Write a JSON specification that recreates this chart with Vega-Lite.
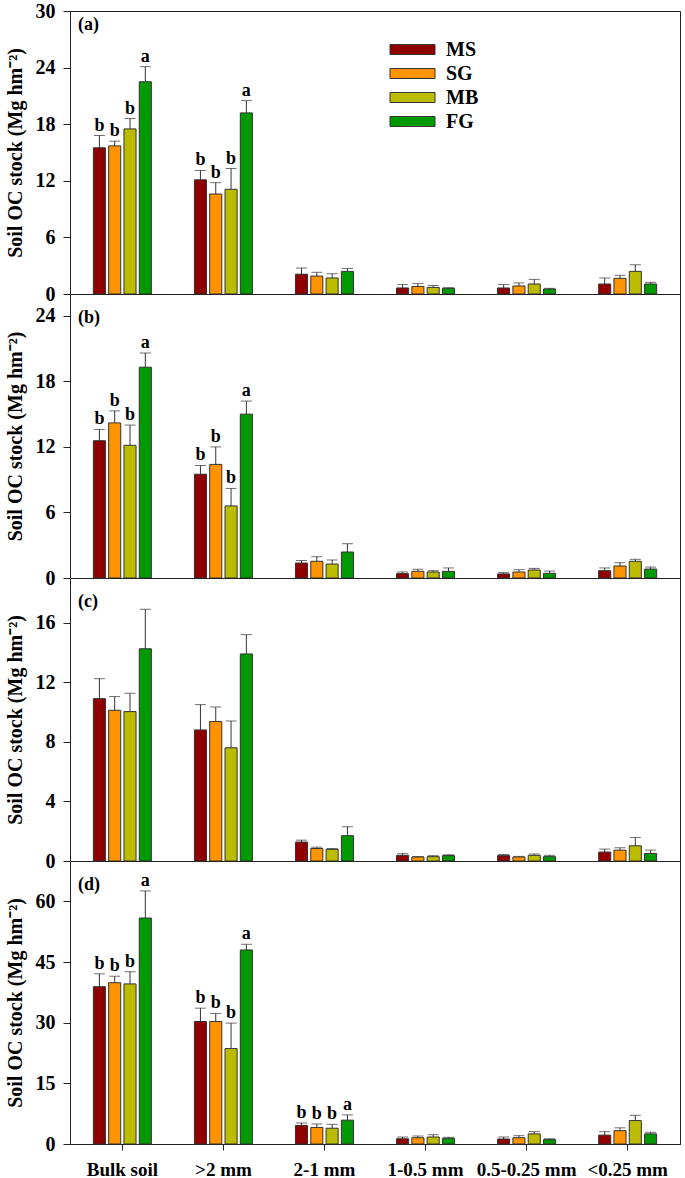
{
  "$schema": "https://vega.github.io/schema/vega-lite/v6.json",
  "padding": {"left": 4, "top": 0, "right": 2, "bottom": 0},
  "background": "white",
  "spacing": 0,
  "bounds": "flush",
  "config": {
    "font": "Liberation Serif",
    "view": {"stroke": "#222", "strokeWidth": 1},
    "axis": {"grid": false, "domainColor": "#222", "tickColor": "#222", "labelColor": "#000", "titleColor": "#000", "labelFont": "Liberation Serif", "titleFont": "Liberation Serif", "labelFontWeight": "bold", "titleFontWeight": "bold"},
    "concat": {"spacing": 0}
  },
  "datasets": {
    "d": [
      {"p":"a","s":"Bulk soil","g":"MS","m":15.5,"u":16.8,"l":"b"},
      {"p":"a","s":"Bulk soil","g":"SG","m":15.7,"u":16.2,"l":"b"},
      {"p":"a","s":"Bulk soil","g":"MB","m":17.5,"u":18.6,"l":"b"},
      {"p":"a","s":"Bulk soil","g":"FG","m":22.5,"u":24.1,"l":"a"},
      {"p":"a","s":">2 mm","g":"MS","m":12.1,"u":13.1,"l":"b"},
      {"p":"a","s":">2 mm","g":"SG","m":10.6,"u":11.8,"l":"b"},
      {"p":"a","s":">2 mm","g":"MB","m":11.1,"u":13.3,"l":"b"},
      {"p":"a","s":">2 mm","g":"FG","m":19.2,"u":20.5,"l":"a"},
      {"p":"a","s":"2-1 mm","g":"MS","m":2.1,"u":2.75,"l":""},
      {"p":"a","s":"2-1 mm","g":"SG","m":1.9,"u":2.3,"l":""},
      {"p":"a","s":"2-1 mm","g":"MB","m":1.7,"u":2.15,"l":""},
      {"p":"a","s":"2-1 mm","g":"FG","m":2.4,"u":2.7,"l":""},
      {"p":"a","s":"1-0.5 mm","g":"MS","m":0.64,"u":1.0,"l":""},
      {"p":"a","s":"1-0.5 mm","g":"SG","m":0.8,"u":1.1,"l":""},
      {"p":"a","s":"1-0.5 mm","g":"MB","m":0.7,"u":0.9,"l":""},
      {"p":"a","s":"1-0.5 mm","g":"FG","m":0.6,"u":0.67,"l":""},
      {"p":"a","s":"0.5-0.25 mm","g":"MS","m":0.64,"u":1.0,"l":""},
      {"p":"a","s":"0.5-0.25 mm","g":"SG","m":0.85,"u":1.17,"l":""},
      {"p":"a","s":"0.5-0.25 mm","g":"MB","m":1.06,"u":1.55,"l":""},
      {"p":"a","s":"0.5-0.25 mm","g":"FG","m":0.53,"u":0.6,"l":""},
      {"p":"a","s":"<0.25 mm","g":"MS","m":1.06,"u":1.7,"l":""},
      {"p":"a","s":"<0.25 mm","g":"SG","m":1.66,"u":1.98,"l":""},
      {"p":"a","s":"<0.25 mm","g":"MB","m":2.4,"u":3.1,"l":""},
      {"p":"a","s":"<0.25 mm","g":"FG","m":1.06,"u":1.24,"l":""},

      {"p":"b","s":"Bulk soil","g":"MS","m":12.57,"u":13.6,"l":"b"},
      {"p":"b","s":"Bulk soil","g":"SG","m":14.2,"u":15.3,"l":"b"},
      {"p":"b","s":"Bulk soil","g":"MB","m":12.15,"u":14.0,"l":"b"},
      {"p":"b","s":"Bulk soil","g":"FG","m":19.3,"u":20.6,"l":"a"},
      {"p":"b","s":">2 mm","g":"MS","m":9.5,"u":10.3,"l":"b"},
      {"p":"b","s":">2 mm","g":"SG","m":10.4,"u":12.0,"l":"b"},
      {"p":"b","s":">2 mm","g":"MB","m":6.6,"u":8.2,"l":"b"},
      {"p":"b","s":">2 mm","g":"FG","m":15.0,"u":16.2,"l":"a"},
      {"p":"b","s":"2-1 mm","g":"MS","m":1.37,"u":1.6,"l":""},
      {"p":"b","s":"2-1 mm","g":"SG","m":1.53,"u":1.95,"l":""},
      {"p":"b","s":"2-1 mm","g":"MB","m":1.28,"u":1.65,"l":""},
      {"p":"b","s":"2-1 mm","g":"FG","m":2.38,"u":3.14,"l":""},
      {"p":"b","s":"1-0.5 mm","g":"MS","m":0.4,"u":0.55,"l":""},
      {"p":"b","s":"1-0.5 mm","g":"SG","m":0.61,"u":0.8,"l":""},
      {"p":"b","s":"1-0.5 mm","g":"MB","m":0.55,"u":0.67,"l":""},
      {"p":"b","s":"1-0.5 mm","g":"FG","m":0.61,"u":0.92,"l":""},
      {"p":"b","s":"0.5-0.25 mm","g":"MS","m":0.37,"u":0.49,"l":""},
      {"p":"b","s":"0.5-0.25 mm","g":"SG","m":0.55,"u":0.76,"l":""},
      {"p":"b","s":"0.5-0.25 mm","g":"MB","m":0.73,"u":0.88,"l":""},
      {"p":"b","s":"0.5-0.25 mm","g":"FG","m":0.43,"u":0.64,"l":""},
      {"p":"b","s":"<0.25 mm","g":"MS","m":0.67,"u":0.92,"l":""},
      {"p":"b","s":"<0.25 mm","g":"SG","m":1.1,"u":1.4,"l":""},
      {"p":"b","s":"<0.25 mm","g":"MB","m":1.53,"u":1.71,"l":""},
      {"p":"b","s":"<0.25 mm","g":"FG","m":0.82,"u":1.0,"l":""},

      {"p":"c","s":"Bulk soil","g":"MS","m":10.9,"u":12.24,"l":""},
      {"p":"c","s":"Bulk soil","g":"SG","m":10.12,"u":11.04,"l":""},
      {"p":"c","s":"Bulk soil","g":"MB","m":10.03,"u":11.26,"l":""},
      {"p":"c","s":"Bulk soil","g":"FG","m":14.25,"u":16.9,"l":""},
      {"p":"c","s":">2 mm","g":"MS","m":8.8,"u":10.5,"l":""},
      {"p":"c","s":">2 mm","g":"SG","m":9.36,"u":10.34,"l":""},
      {"p":"c","s":">2 mm","g":"MB","m":7.6,"u":9.4,"l":""},
      {"p":"c","s":">2 mm","g":"FG","m":13.9,"u":15.2,"l":""},
      {"p":"c","s":"2-1 mm","g":"MS","m":1.27,"u":1.4,"l":""},
      {"p":"c","s":"2-1 mm","g":"SG","m":0.84,"u":0.93,"l":""},
      {"p":"c","s":"2-1 mm","g":"MB","m":0.78,"u":0.84,"l":""},
      {"p":"c","s":"2-1 mm","g":"FG","m":1.7,"u":2.3,"l":""},
      {"p":"c","s":"1-0.5 mm","g":"MS","m":0.38,"u":0.49,"l":""},
      {"p":"c","s":"1-0.5 mm","g":"SG","m":0.27,"u":0.3,"l":""},
      {"p":"c","s":"1-0.5 mm","g":"MB","m":0.29,"u":0.36,"l":""},
      {"p":"c","s":"1-0.5 mm","g":"FG","m":0.36,"u":0.42,"l":""},
      {"p":"c","s":"0.5-0.25 mm","g":"MS","m":0.36,"u":0.44,"l":""},
      {"p":"c","s":"0.5-0.25 mm","g":"SG","m":0.27,"u":0.31,"l":""},
      {"p":"c","s":"0.5-0.25 mm","g":"MB","m":0.38,"u":0.47,"l":""},
      {"p":"c","s":"0.5-0.25 mm","g":"FG","m":0.29,"u":0.38,"l":""},
      {"p":"c","s":"<0.25 mm","g":"MS","m":0.6,"u":0.8,"l":""},
      {"p":"c","s":"<0.25 mm","g":"SG","m":0.73,"u":0.89,"l":""},
      {"p":"c","s":"<0.25 mm","g":"MB","m":1.02,"u":1.58,"l":""},
      {"p":"c","s":"<0.25 mm","g":"FG","m":0.51,"u":0.73,"l":""},

      {"p":"d","s":"Bulk soil","g":"MS","m":38.9,"u":42.1,"l":"b"},
      {"p":"d","s":"Bulk soil","g":"SG","m":39.9,"u":41.5,"l":"b"},
      {"p":"d","s":"Bulk soil","g":"MB","m":39.6,"u":42.6,"l":"b"},
      {"p":"d","s":"Bulk soil","g":"FG","m":55.9,"u":62.6,"l":"a"},
      {"p":"d","s":">2 mm","g":"MS","m":30.3,"u":33.6,"l":"b"},
      {"p":"d","s":">2 mm","g":"SG","m":30.3,"u":32.3,"l":"b"},
      {"p":"d","s":">2 mm","g":"MB","m":23.6,"u":29.9,"l":"b"},
      {"p":"d","s":">2 mm","g":"FG","m":48.0,"u":49.4,"l":"a"},
      {"p":"d","s":"2-1 mm","g":"MS","m":4.6,"u":5.2,"l":"b"},
      {"p":"d","s":"2-1 mm","g":"SG","m":4.1,"u":4.95,"l":"b"},
      {"p":"d","s":"2-1 mm","g":"MB","m":3.9,"u":4.86,"l":"b"},
      {"p":"d","s":"2-1 mm","g":"FG","m":5.9,"u":7.2,"l":"a"},
      {"p":"d","s":"1-0.5 mm","g":"MS","m":1.3,"u":1.73,"l":""},
      {"p":"d","s":"1-0.5 mm","g":"SG","m":1.56,"u":1.98,"l":""},
      {"p":"d","s":"1-0.5 mm","g":"MB","m":1.73,"u":2.3,"l":""},
      {"p":"d","s":"1-0.5 mm","g":"FG","m":1.4,"u":1.65,"l":""},
      {"p":"d","s":"0.5-0.25 mm","g":"MS","m":1.24,"u":1.73,"l":""},
      {"p":"d","s":"0.5-0.25 mm","g":"SG","m":1.56,"u":2.06,"l":""},
      {"p":"d","s":"0.5-0.25 mm","g":"MB","m":2.5,"u":3.05,"l":""},
      {"p":"d","s":"0.5-0.25 mm","g":"FG","m":1.07,"u":1.3,"l":""},
      {"p":"d","s":"<0.25 mm","g":"MS","m":2.2,"u":3.05,"l":""},
      {"p":"d","s":"<0.25 mm","g":"SG","m":3.3,"u":4.0,"l":""},
      {"p":"d","s":"<0.25 mm","g":"MB","m":5.8,"u":7.1,"l":""},
      {"p":"d","s":"<0.25 mm","g":"FG","m":2.5,"u":2.9,"l":""}
    ]
  },
  "data": {"name": "d"},
  "resolve": {"scale": {"color": "independent", "x": "independent", "y": "independent"}, "legend": {"color": "independent"}},
  "vconcat": [
    {
      "width": 610, "height": 283,
      "title": {"text": "(a)", "anchor": "start", "frame": "group", "offset": -33, "dx": 8, "fontSize": 18, "fontWeight": "bold", "font": "Liberation Serif", "color": "#000"},
      "transform": [{"filter": "datum.p == 'a'"}],
      "encoding": {
        "x": {"field": "s", "type": "nominal", "sort": ["Bulk soil", ">2 mm", "2-1 mm", "1-0.5 mm", "0.5-0.25 mm", "<0.25 mm"], "scale": {"paddingInner": 0.426, "paddingOuter": 0.231}, "axis": null},
        "xOffset": {"field": "g", "type": "nominal", "sort": ["MS", "SG", "MB", "FG"], "scale": {"paddingInner": 0.21, "paddingOuter": 0}}
      },
      "layer": [
        {"mark": {"type": "bar", "stroke": "#333", "strokeWidth": 1},
         "encoding": {
           "y": {"field": "m", "type": "quantitative", "scale": {"domain": [0, 30], "nice": false}, "title": "Soil OC stock (Mg hm⁻²)",
                 "axis": {"values": [0, 6, 12, 18, 24, 30], "tickSize": 7, "labelFontSize": 20, "titleFontSize": 20, "labelPadding": 8, "titlePadding": 10}},
           "color": {"field": "g", "type": "nominal", "scale": {"domain": ["MS", "SG", "MB", "FG"], "range": ["#900000", "#FF9400", "#BBBB00", "#009900"]},
                     "legend": {"orient": "none", "legendX": 332, "legendY": 28, "direction": "vertical", "title": null, "labelFontSize": 20, "labelFontWeight": "bold", "labelFont": "Liberation Serif", "labelColor": "#000", "symbolType": "M-2.25,-0.5H2.25V0.5H-2.25Z", "symbolSize": 400, "symbolStrokeColor": "#333", "symbolStrokeWidth": 1, "symbolOpacity": 1, "labelOffset": 23, "rowPadding": 3}}
         }},
        {"mark": {"type": "rule", "color": "#333", "strokeWidth": 1},
         "encoding": {"y": {"field": "m", "type": "quantitative"}, "y2": {"field": "u"}}},
        {"mark": {"type": "tick", "color": "#333", "size": 11, "thickness": 1},
         "encoding": {"y": {"field": "u", "type": "quantitative"}}},
        {"mark": {"type": "text", "baseline": "alphabetic", "dy": -5, "fontSize": 18, "fontWeight": "bold", "font": "Liberation Serif", "color": "#000"},
         "encoding": {"y": {"field": "u", "type": "quantitative"}, "text": {"field": "l"}}}
      ]
    },
    {
      "width": 610, "height": 284,
      "title": {"text": "(b)", "anchor": "start", "frame": "group", "offset": -33, "dx": 8, "fontSize": 18, "fontWeight": "bold", "font": "Liberation Serif", "color": "#000"},
      "transform": [{"filter": "datum.p == 'b'"}],
      "encoding": {
        "x": {"field": "s", "type": "nominal", "sort": ["Bulk soil", ">2 mm", "2-1 mm", "1-0.5 mm", "0.5-0.25 mm", "<0.25 mm"], "scale": {"paddingInner": 0.426, "paddingOuter": 0.231}, "axis": null},
        "xOffset": {"field": "g", "type": "nominal", "sort": ["MS", "SG", "MB", "FG"], "scale": {"paddingInner": 0.21, "paddingOuter": 0}}
      },
      "layer": [
        {"mark": {"type": "bar", "stroke": "#333", "strokeWidth": 1},
         "encoding": {
           "y": {"field": "m", "type": "quantitative", "scale": {"domain": [0, 26], "nice": false}, "title": "Soil OC stock (Mg hm⁻²)",
                 "axis": {"values": [0, 6, 12, 18, 24], "tickSize": 7, "labelFontSize": 20, "titleFontSize": 20, "labelPadding": 8, "titlePadding": 10}},
           "color": {"field": "g", "type": "nominal", "scale": {"domain": ["MS", "SG", "MB", "FG"], "range": ["#900000", "#FF9400", "#BBBB00", "#009900"]}, "legend": null}
         }},
        {"mark": {"type": "rule", "color": "#333", "strokeWidth": 1},
         "encoding": {"y": {"field": "m", "type": "quantitative"}, "y2": {"field": "u"}}},
        {"mark": {"type": "tick", "color": "#333", "size": 11, "thickness": 1},
         "encoding": {"y": {"field": "u", "type": "quantitative"}}},
        {"mark": {"type": "text", "baseline": "alphabetic", "dy": -5, "fontSize": 18, "fontWeight": "bold", "font": "Liberation Serif", "color": "#000"},
         "encoding": {"y": {"field": "u", "type": "quantitative"}, "text": {"field": "l"}}}
      ]
    },
    {
      "width": 610, "height": 283,
      "title": {"text": "(c)", "anchor": "start", "frame": "group", "offset": -33, "dx": 8, "fontSize": 18, "fontWeight": "bold", "font": "Liberation Serif", "color": "#000"},
      "transform": [{"filter": "datum.p == 'c'"}],
      "encoding": {
        "x": {"field": "s", "type": "nominal", "sort": ["Bulk soil", ">2 mm", "2-1 mm", "1-0.5 mm", "0.5-0.25 mm", "<0.25 mm"], "scale": {"paddingInner": 0.426, "paddingOuter": 0.231}, "axis": null},
        "xOffset": {"field": "g", "type": "nominal", "sort": ["MS", "SG", "MB", "FG"], "scale": {"paddingInner": 0.21, "paddingOuter": 0}}
      },
      "layer": [
        {"mark": {"type": "bar", "stroke": "#333", "strokeWidth": 1},
         "encoding": {
           "y": {"field": "m", "type": "quantitative", "scale": {"domain": [0, 19], "nice": false}, "title": "Soil OC stock (Mg hm⁻²)",
                 "axis": {"values": [0, 4, 8, 12, 16], "tickSize": 7, "labelFontSize": 20, "titleFontSize": 20, "labelPadding": 8, "titlePadding": 10}},
           "color": {"field": "g", "type": "nominal", "scale": {"domain": ["MS", "SG", "MB", "FG"], "range": ["#900000", "#FF9400", "#BBBB00", "#009900"]}, "legend": null}
         }},
        {"mark": {"type": "rule", "color": "#333", "strokeWidth": 1},
         "encoding": {"y": {"field": "m", "type": "quantitative"}, "y2": {"field": "u"}}},
        {"mark": {"type": "tick", "color": "#333", "size": 11, "thickness": 1},
         "encoding": {"y": {"field": "u", "type": "quantitative"}}}
      ]
    },
    {
      "width": 610, "height": 283,
      "title": {"text": "(d)", "anchor": "start", "frame": "group", "offset": -33, "dx": 8, "fontSize": 18, "fontWeight": "bold", "font": "Liberation Serif", "color": "#000"},
      "transform": [{"filter": "datum.p == 'd'"}],
      "encoding": {
        "x": {"field": "s", "type": "nominal", "sort": ["Bulk soil", ">2 mm", "2-1 mm", "1-0.5 mm", "0.5-0.25 mm", "<0.25 mm"], "scale": {"paddingInner": 0.426, "paddingOuter": 0.231},
              "axis": {"title": null, "labelAngle": 0, "tickSize": 6, "labelFontSize": 19, "labelPadding": 10}},
        "xOffset": {"field": "g", "type": "nominal", "sort": ["MS", "SG", "MB", "FG"], "scale": {"paddingInner": 0.21, "paddingOuter": 0}}
      },
      "layer": [
        {"mark": {"type": "bar", "stroke": "#333", "strokeWidth": 1},
         "encoding": {
           "y": {"field": "m", "type": "quantitative", "scale": {"domain": [0, 70], "nice": false}, "title": "Soil OC stock (Mg hm⁻²)",
                 "axis": {"values": [0, 15, 30, 45, 60], "tickSize": 7, "labelFontSize": 20, "titleFontSize": 20, "labelPadding": 8, "titlePadding": 10}},
           "color": {"field": "g", "type": "nominal", "scale": {"domain": ["MS", "SG", "MB", "FG"], "range": ["#900000", "#FF9400", "#BBBB00", "#009900"]}, "legend": null}
         }},
        {"mark": {"type": "rule", "color": "#333", "strokeWidth": 1},
         "encoding": {"y": {"field": "m", "type": "quantitative"}, "y2": {"field": "u"}}},
        {"mark": {"type": "tick", "color": "#333", "size": 11, "thickness": 1},
         "encoding": {"y": {"field": "u", "type": "quantitative"}}},
        {"mark": {"type": "text", "baseline": "alphabetic", "dy": -5, "fontSize": 18, "fontWeight": "bold", "font": "Liberation Serif", "color": "#000"},
         "encoding": {"y": {"field": "u", "type": "quantitative"}, "text": {"field": "l"}}}
      ]
    }
  ]
}
